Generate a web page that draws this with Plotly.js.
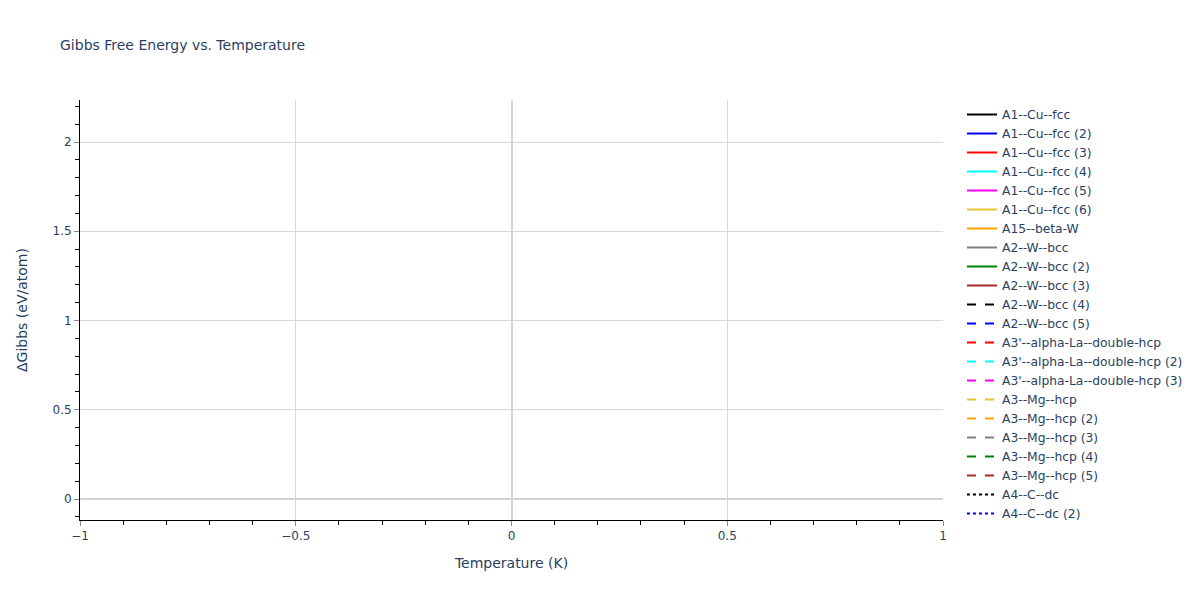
<!DOCTYPE html>
<html>
<head>
<meta charset="utf-8">
<script src="https://cdn.plot.ly/plotly-3.0.1.min.js"></script>
<style>
  html, body { margin: 0; padding: 0; background: #fff; }
  #chart { width: 1200px; height: 600px; }
</style>
</head>
<body>
<div id="chart"></div>
<script>
// Phase names (legend order)
const phases = [
    'A1--Cu--fcc', 'A1--Cu--fcc (2)', 'A1--Cu--fcc (3)', 'A1--Cu--fcc (4)',
    'A1--Cu--fcc (5)', 'A1--Cu--fcc (6)', 'A15--beta-W', 'A2--W--bcc',
    'A2--W--bcc (2)', 'A2--W--bcc (3)', 'A2--W--bcc (4)', 'A2--W--bcc (5)',
    "A3'--alpha-La--double-hcp", "A3'--alpha-La--double-hcp (2)", "A3'--alpha-La--double-hcp (3)",
    'A3--Mg--hcp', 'A3--Mg--hcp (2)', 'A3--Mg--hcp (3)', 'A3--Mg--hcp (4)', 'A3--Mg--hcp (5)',
    'A4--C--dc', 'A4--C--dc (2)',
];

// Each phase has a single point at T = 0 K (so no visible line segment)
const temperatures = [0];
const deltaGibbs = [
    0.00, 0.41, 0.87, 1.12, 0.65, 1.34, 0.52, 0.18,
    0.73, 1.05, 0.29, 0.96, 0.08, 0.33, 0.61,
    0.05, 0.47, 0.82, 1.21, 0.39,
    2.118, 1.76,
];

const COLORS = ['black', 'blue', 'red', 'cyan', 'magenta', '#e8c232', 'orange', 'gray', 'green', 'brown'];

function dashFor(i) {
    if (i < 10) return 'solid';
    if (i < 20) return 'dash';
    return 'dot';
}

const traces = phases.map((name, i) => ({
    x: temperatures,
    y: [deltaGibbs[i]],
    name: name,
    type: 'scatter',
    mode: 'lines',
    line: { color: COLORS[i % COLORS.length], width: 2, dash: dashFor(i) },
}));

const AXIS = {
    showline: true,
    linecolor: 'black',
    linewidth: 1,
    ticks: 'outside',
    ticklen: 5,
    tickcolor: '#888',
    gridcolor: '#d9d9d9',
    zeroline: true,
    zerolinecolor: '#d3d3d3',
    zerolinewidth: 2,
    minor: { ticks: 'outside', ticklen: 4, tickcolor: 'black', dtick: 0.1, showgrid: false },
};

const layout = {
    width: 1200,
    height: 600,
    paper_bgcolor: 'white',
    plot_bgcolor: 'white',
    font: { family: '"DejaVu Sans", Verdana, sans-serif', color: '#2a3f5f', size: 12 },
    title: { text: 'Gibbs Free Energy vs. Temperature', x: 0.05, xanchor: 'left', font: { size: 14 } },
    xaxis: { ...AXIS, title: { text: 'Temperature (K)', font: { size: 14 }, standoff: 15 }, dtick: 0.5 },
    yaxis: { ...AXIS, title: { text: 'ΔGibbs (eV/atom)', font: { size: 14 }, standoff: 21 }, dtick: 0.5 },
    legend: { x: 1.022, y: 1, yanchor: 'top', tracegroupgap: 0, maxheight: 500, font: { size: 12.3 } },
    showlegend: true,
    margin: { l: 80, r: 80, t: 100, b: 80 },
};

Plotly.newPlot('chart', traces, layout, { displayModeBar: false });
</script>
</body>
</html>
